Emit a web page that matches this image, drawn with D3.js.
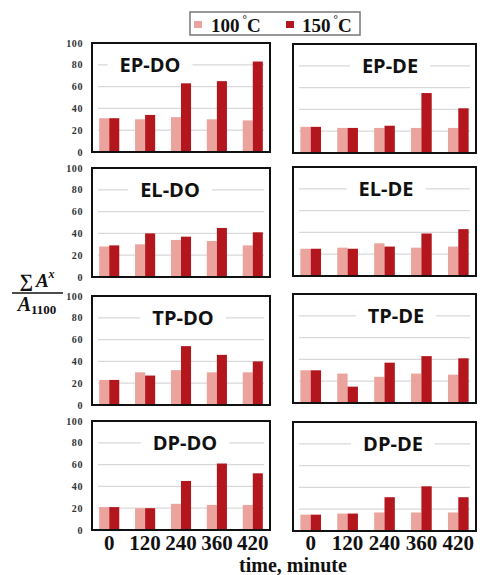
<!DOCTYPE html>
<html>
<head>
<meta charset="utf-8">
<script src="https://cdn.jsdelivr.net/npm/d3@7"></script>
<style>
  html, body { margin: 0; padding: 0; background: #fff; }
  svg { display: block; }
</style>
</head>
<body>
<div id="plot"></div>
<script>
// Data
const times = ["0", "120", "240", "360", "420"];
const seriesNames = ["100", "150"];
const panelNames = ["EP-DO", "EP-DE", "EL-DO", "EL-DE", "TP-DO", "TP-DE", "DP-DO", "DP-DE"];
const yTicks = [0, 20, 40, 60, 80, 100];

const t100 = {
    "EP-DO": [31, 30, 32, 30, 29],
    "EP-DE": [24, 23, 23, 23, 23],
    "EL-DO": [28, 30, 34, 33, 29],
    "EL-DE": [25, 26, 30, 26, 27],
    "TP-DO": [23, 30, 32, 30, 30],
    "TP-DE": [30, 27, 24, 27, 26],
    "DP-DO": [21, 20, 24, 23, 23],
    "DP-DE": [15, 16, 17, 17, 17]
};
const t150 = {
    "EP-DO": [31, 34, 63, 65, 83],
    "EP-DE": [24, 23, 25, 55, 41],
    "EL-DO": [29, 40, 37, 45, 41],
    "EL-DE": [25, 25, 27, 39, 43],
    "TP-DO": [23, 27, 54, 46, 40],
    "TP-DE": [30, 15, 37, 43, 41],
    "DP-DO": [21, 20, 45, 61, 52],
    "DP-DE": [15, 16, 31, 41, 31]
};

// Layout
const width = 482, height = 575;
const colX = [[92, 270], [293, 476]];
const rowTop = [[43, 168, 296, 421], [44, 167, 294, 422]];
const panelH = 109;
const titleX = [[150, 170, 183, 185], [390, 386, 396, 393]];
const colors = { "100": "#eba49d", "150": "#b3161d" };
const serif = "'Liberation Serif', 'Times New Roman', serif";

const svg = d3.select("#plot")
    .append("svg")
    .attr("width", width)
    .attr("height", height)
    .attr("viewBox", [0, 0, width, height]);

panelNames.forEach((name, i) => {
    const col = i % 2, row = Math.floor(i / 2);
    const [x0, x1] = colX[col];
    const top = rowTop[col][row], bottom = top + panelH;

    const x = d3.scaleBand().domain(times).range([x0, x1]).paddingInner(0.44).paddingOuter(0.2);
    const xs = d3.scaleBand().domain(seriesNames).range([0, x.bandwidth()]);
    const y = d3.scaleLinear().domain([0, 100]).range([bottom, top]);

    const g = svg.append("g");

    // grid lines
    g.append("g")
        .selectAll("line")
        .data(yTicks.filter(d => d > 0 && d < 100))
        .join("line")
        .attr("x1", x0 + 6).attr("x2", x1 - 6)
        .attr("y1", d => y(d)).attr("y2", d => y(d))
        .attr("stroke", "#d9d9d9")
        .attr("stroke-width", 1.3);

    // y axis labels (left column only)
    if (col === 0) {
        g.append("g")
            .selectAll("text")
            .data(yTicks)
            .join("text")
            .attr("x", 83)
            .attr("y", d => y(d) + 3.5)
            .attr("text-anchor", "end")
            .attr("font-family", serif)
            .attr("font-weight", "bold")
            .attr("font-size", 10)
            .attr("letter-spacing", 0.6)
            .attr("fill", "#333")
            .text(d => d);
    }

    // bars
    const rows = times.map((t, j) => ({ t, vals: [t100[name][j], t150[name][j]] }));
    g.append("g")
        .selectAll("g")
        .data(rows)
        .join("g")
        .attr("transform", d => `translate(${x(d.t)},0)`)
        .selectAll("rect")
        .data(d => d.vals.map((v, k) => ({ s: seriesNames[k], v })))
        .join("rect")
        .attr("x", d => xs(d.s))
        .attr("width", xs.bandwidth())
        .attr("y", d => y(d.v))
        .attr("height", d => y(0) - y(d.v))
        .attr("fill", d => colors[d.s]);

    // panel title with white backing
    const tx = titleX[col][row];
    const back = g.append("rect").attr("fill", "#fff");
    const title = g.append("text")
        .attr("x", tx)
        .attr("y", y(80) + 7)
        .attr("text-anchor", "middle")
        .attr("font-family", "'Open Sans', 'Liberation Sans', sans-serif")
        .attr("font-weight", "bold")
        .attr("font-size", 20)
        .attr("fill", "#111")
        .text(name);
    const bb = title.node().getBBox();
    back.attr("x", bb.x - 12).attr("y", bb.y + 2)
        .attr("width", bb.width + 24).attr("height", bb.height - 4);

    // frame
    g.append("rect")
        .attr("x", x0).attr("y", top)
        .attr("width", x1 - x0).attr("height", panelH)
        .attr("fill", "none")
        .attr("stroke", "#111")
        .attr("stroke-width", 2);

    // x labels under the bottom row
    if (row === 3) {
        g.append("g")
            .selectAll("text")
            .data(times)
            .join("text")
            .attr("x", d => x(d) + x.bandwidth() / 2)
            .attr("y", 550)
            .attr("text-anchor", "middle")
            .attr("font-family", serif)
            .attr("font-weight", "bold")
            .attr("font-size", 21)
            .attr("fill", "#111")
            .text(d => d);
    }
});

// x axis title
svg.append("text")
    .attr("x", 293).attr("y", 572)
    .attr("text-anchor", "middle")
    .attr("font-family", serif)
    .attr("font-weight", "bold")
    .attr("font-size", 20)
    .attr("fill", "#111")
    .text("time, minute");

// y axis title: fraction
const yt = svg.append("g").attr("font-family", serif).attr("font-weight", "bold").attr("fill", "#111");
const num = yt.append("text").attr("x", 37).attr("y", 287).attr("text-anchor", "middle").attr("font-size", 19);
num.append("tspan").text("\u2211");
num.append("tspan").attr("font-style", "italic").attr("dx", 3).text("A");
num.append("tspan").attr("font-style", "italic").attr("font-size", 12).attr("dy", -9).text("x");
yt.append("line")
    .attr("x1", 12).attr("x2", 63)
    .attr("y1", 293).attr("y2", 293)
    .attr("stroke", "#111").attr("stroke-width", 1.3);
const den = yt.append("text").attr("x", 37).attr("y", 311).attr("text-anchor", "middle").attr("font-size", 20);
den.append("tspan").attr("font-style", "italic").text("A");
den.append("tspan").attr("font-size", 13).attr("dy", 3).text("1100");

// legend
const legend = svg.append("g");
legend.append("rect")
    .attr("x", 190).attr("y", 12)
    .attr("width", 170).attr("height", 23)
    .attr("fill", "#fff")
    .attr("stroke", "#777")
    .attr("stroke-width", 1.5);
const legX = [[194, 211], [286, 302]];
seriesNames.forEach((s, i) => {
    legend.append("rect")
        .attr("x", legX[i][0]).attr("y", 21)
        .attr("width", 8).attr("height", 7)
        .attr("fill", colors[s]);
    const t = legend.append("text")
        .attr("x", legX[i][1]).attr("y", 32)
        .attr("font-family", serif)
        .attr("font-weight", "bold")
        .attr("font-size", 19)
        .attr("fill", "#111");
    t.append("tspan").text(s);
    t.append("tspan").attr("font-size", 11).attr("dy", -9).attr("dx", 3).text("\u00b0");
    t.append("tspan").attr("dy", 9).attr("dx", 0).text("C");
});
</script>
</body>
</html>
